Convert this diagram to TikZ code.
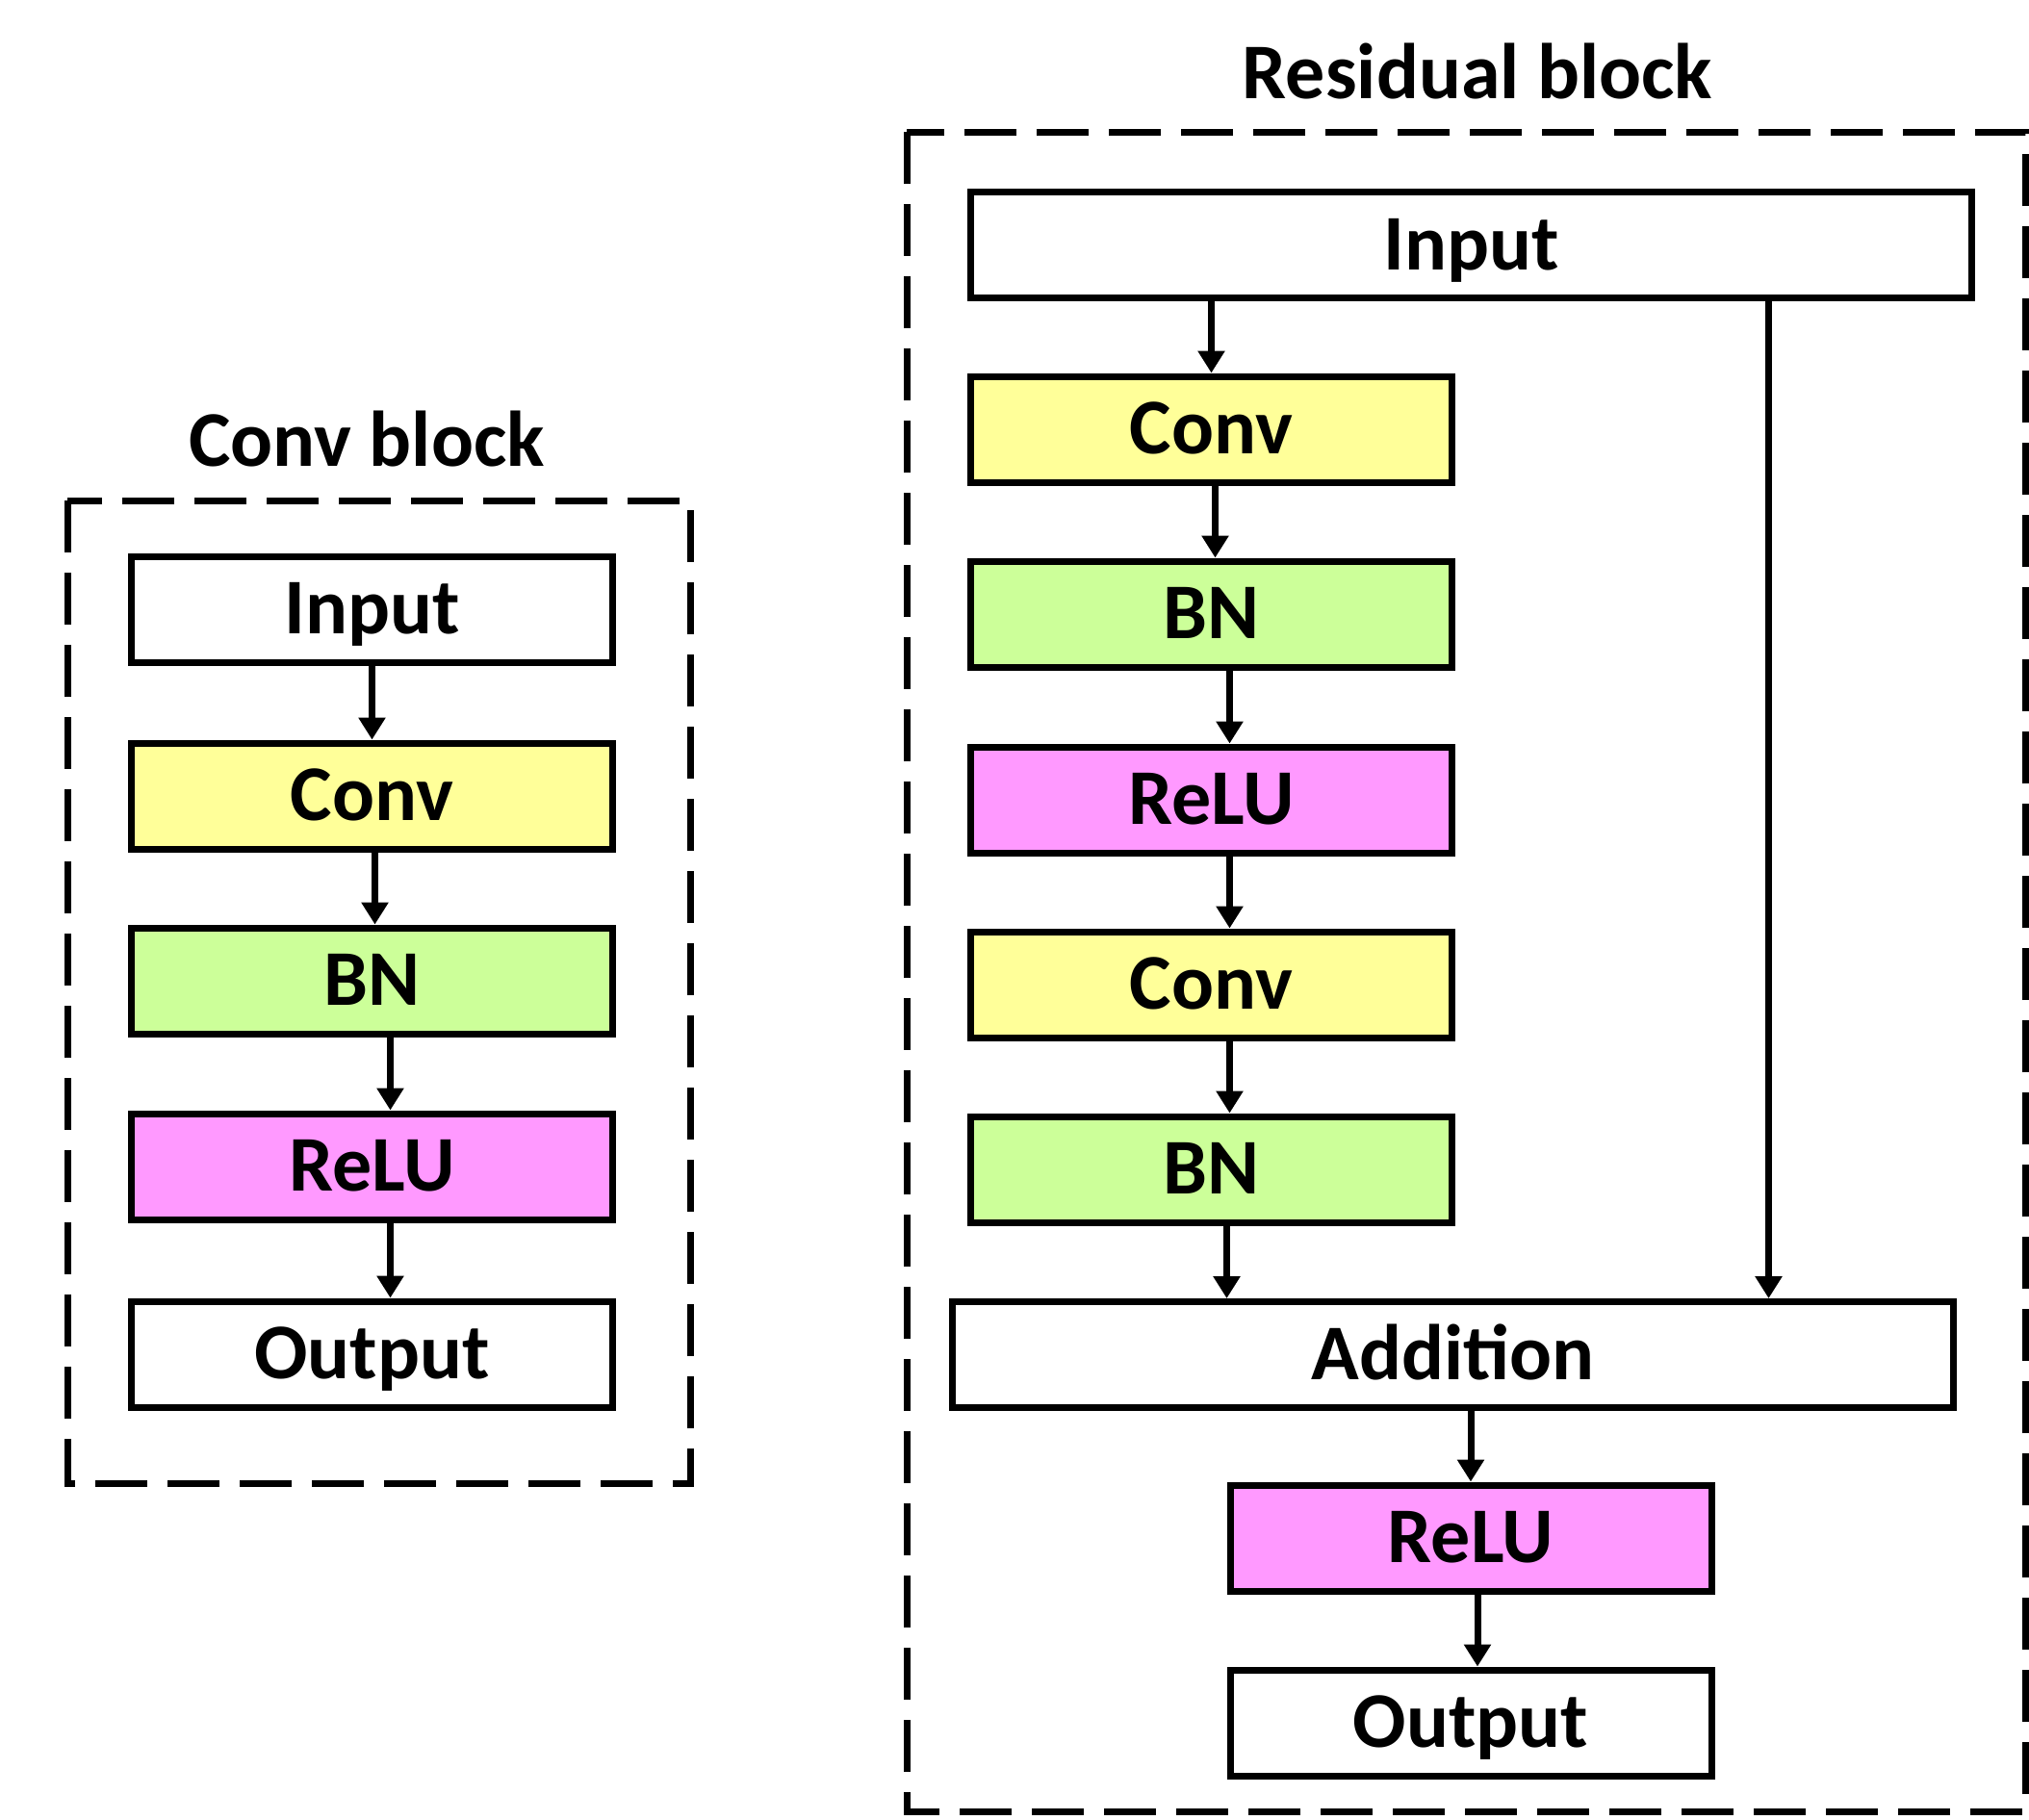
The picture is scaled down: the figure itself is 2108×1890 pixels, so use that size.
\documentclass[tikz,border=0pt]{standalone}
\usepackage{fontspec}
\setmainfont{Carlito}
\usetikzlibrary{arrows.meta}
\definecolor{cyellow}{HTML}{FFFF99}
\definecolor{cgreen}{HTML}{CCFF99}
\definecolor{cpink}{HTML}{FF99FF}
\begin{document}
\begin{tikzpicture}[x=0.5pt,y=-0.5pt,
  lbl/.style={font=\bfseries\fontsize{41}{49}\selectfont},
  blk/.style={lbl, draw, line width=3.5pt, minimum width=250pt, minimum height=55pt,
    inner sep=0pt, text height=25.5pt, text depth=0pt},
  wide/.style={blk, minimum width=520pt},
  yel/.style={blk, fill=cyellow},
  grn/.style={blk, fill=cgreen},
  pnk/.style={blk, fill=cpink},
  arr/.style={line width=3.5pt, -{Triangle[length=11.5pt,width=13.5pt]}},
  dashbox/.style={line width=3.5pt, dash pattern=on 27pt off 10.5pt}]
\useasboundingbox (0,0) rectangle (2108,1890);

% ---------- Conv block ----------
\node[lbl, anchor=base] (t1) at (381,484) {Conv block};
\draw[dashbox] (70,520) rectangle (717,1541);
\node[blk] (li) at (386.5,633) {Input};
\node[yel] (lc) at (386.5,827) {Conv};
\node[grn] (lb) at (386.5,1019) {BN};
\node[pnk] (lr) at (386.5,1212) {ReLU};
\node[blk] (lo) at (386.5,1407) {Output};
\draw[arr] (li.south) -- (lc.north);
\draw[arr] ([xshift=1.5pt]lc.south) -- ([xshift=1.5pt]lb.north);
\draw[arr] ([xshift=9.5pt]lb.south) -- ([xshift=9.5pt]lr.north);
\draw[arr] ([xshift=9.5pt]lr.south) -- ([xshift=9.5pt]lo.north);

% ---------- Residual block ----------
\node[lbl, anchor=base] (t2) at (1535,102) {Residual block};
\draw[dashbox] (942,137) rectangle (2104,1882);
\node[wide] (ri) at (1528.5,254.5) {Input};
\node[yel] (rc1) at (1258.5,446) {Conv};
\node[grn] (rb1) at (1258.5,638) {BN};
\node[pnk] (rr1) at (1258.5,831) {ReLU};
\node[yel] (rc2) at (1258.5,1023) {Conv};
\node[grn] (rb2) at (1258.5,1215) {BN};
\node[wide] (ra) at (1509.5,1407.5) {Addition};
\node[pnk] (rr2) at (1528,1598) {ReLU};
\node[blk] (ro) at (1528,1790) {Output};
\draw[arr] (ri.south -| rc1.north) -- (rc1.north);
\draw[arr] ([xshift=2pt]rc1.south) -- ([xshift=2pt]rb1.north);
\draw[arr] ([xshift=9.5pt]rb1.south) -- ([xshift=9.5pt]rr1.north);
\draw[arr] ([xshift=9.5pt]rr1.south) -- ([xshift=9.5pt]rc2.north);
\draw[arr] ([xshift=9.5pt]rc2.south) -- ([xshift=9.5pt]rb2.north);
\draw[arr] ([xshift=8pt]rb2.south) -- ([xshift=8pt]rb2.south |- ra.north);
\draw[arr] ([xshift=154.5pt]ri.south) -- ([xshift=154.5pt]ri.south |- ra.north);
\draw[arr] (ra.south -| rr2.north) -- (rr2.north);
\draw[arr] ([xshift=3.5pt]rr2.south) -- ([xshift=3.5pt]ro.north);
\end{tikzpicture}
\end{document}
